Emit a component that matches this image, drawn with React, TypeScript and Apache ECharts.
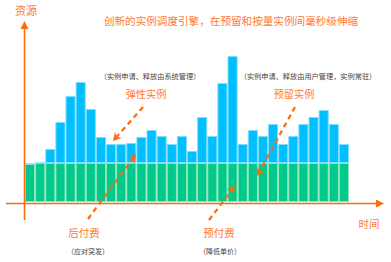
import React, { useEffect, useRef } from "react";
import * as echarts from "echarts";

const categories: string[] = Array.from({ length: 32 }, (_, i) => `T${i + 1}`);
const reservedValues: number[] = [38, 39, 39, 39, 39, 39, 39, 39, 39, 39, 39, 39, 39, 39, 39, 39, 39, 39, 39, 39, 39, 39, 39, 39, 39, 39, 39, 39, 39, 39, 39, 39];
const elasticValues: number[] = [0, 0, 14, 41, 67, 81, 54, 26, 19, 19, 20, 26, 33, 27, 19, 27, 12, 46, 27, 80, 107, 19, 33, 27, 39, 19, 27, 39, 46, 53, 39, 19];

const ORANGE = "#FF6A0D";
const TEXT_ORANGE = "#FF7A2E";
const FONT = '"Noto Sans CJK SC", "Noto Sans", sans-serif';

function arrow(x1: number, y1: number, x2: number, y2: number): any[] {
  const dx = x2 - x1;
  const dy = y2 - y1;
  const len = Math.sqrt(dx * dx + dy * dy);
  const ux = dx / len;
  const uy = dy / len;
  const px = -uy;
  const py = ux;
  const hl = 8;
  const hw = 4.5;
  const bx = x2 - ux * hl;
  const by = y2 - uy * hl;
  const nx = x2 - ux * hl * 0.7;
  const ny = y2 - uy * hl * 0.7;
  return [
    {
      type: "line",
      z: 100,
      shape: { x1, y1, x2: nx, y2: ny },
      style: { stroke: ORANGE, lineWidth: 2.2, lineDash: [5, 4] },
      silent: true,
    },
    {
      type: "polygon",
      z: 100,
      shape: {
        points: [
          [x2, y2],
          [bx + px * hw, by + py * hw],
          [nx, ny],
          [bx - px * hw, by - py * hw],
        ],
      },
      style: { fill: ORANGE },
      silent: true,
    },
  ];
}

function txt(x: number, y: number, text: string, size: number, color: string, align = "center", weight: any = "normal") {
  return {
    type: "text",
    z: 100,
    x,
    y,
    style: {
      text,
      fill: color,
      font: `${weight} ${size}px ${FONT}`,
      textAlign: align,
      textVerticalAlign: "middle",
    },
    silent: true,
  };
}

export default function App() {
  const ref = useRef<HTMLDivElement>(null);
  useEffect(() => {
    if (!ref.current) return;
    const chart = echarts.init(ref.current, undefined, { renderer: "svg" });
    chart.setOption({
      animation: false,
      backgroundColor: "#ffffff",
      grid: { left: 25, right: 42, top: 22, bottom: 60 },
      xAxis: {
        type: "category",
        data: categories,
        axisLine: { show: false },
        axisTick: { show: false },
        axisLabel: { show: false },
      },
      yAxis: {
        type: "value",
        min: 0,
        max: 180,
        axisLine: { show: false },
        axisTick: { show: false },
        axisLabel: { show: false },
        splitLine: { show: false },
      },
      series: [
        {
          type: "bar",
          stack: "total",
          data: reservedValues,
          barCategoryGap: "0%",
          itemStyle: { color: "#00C98B", borderColor: "#8EE6B6", borderWidth: 1 },
        },
        {
          type: "bar",
          stack: "total",
          data: elasticValues,
          barCategoryGap: "0%",
          itemStyle: { color: "#00BFFF", borderColor: "#7FDDFF", borderWidth: 1 },
        },
      ],
      graphic: [
        { type: "line", z: 100, shape: { x1: 24.5, y1: 220, x2: 24.5, y2: 27 }, style: { stroke: ORANGE, lineWidth: 1.6 }, silent: true },
        { type: "polygon", z: 100, shape: { points: [[24.5, 21], [20.5, 29], [28.5, 29]] }, style: { fill: ORANGE }, silent: true },
        { type: "line", z: 100, shape: { x1: 6, y1: 203.5, x2: 378, y2: 203.5 }, style: { stroke: ORANGE, lineWidth: 1.6 }, silent: true },
        { type: "polygon", z: 100, shape: { points: [[384, 203.5], [376, 199.5], [376, 207.5]] }, style: { fill: ORANGE }, silent: true },
        ...arrow(143, 107, 113, 141),
        ...arrow(88, 219, 136, 154),
        ...arrow(295, 107, 257, 176),
        ...arrow(209, 220, 235, 186),
        txt(26, 10, "资源", 11, TEXT_ORANGE),
        txt(231, 20, "创新的实例调度引擎，在预留和按量实例间毫秒级伸缩", 10.6, TEXT_ORANGE),
        txt(150, 76, "（实例申请、释放由系统管理）", 7.2, "#444444"),
        txt(308, 76, "（实例申请、释放由用户管理，实例常驻）", 7.2, "#444444"),
        txt(146, 93, "弹性实例", 10.2, TEXT_ORANGE),
        txt(294, 93, "预留实例", 10.2, TEXT_ORANGE),
        txt(84, 232, "后付费", 10.5, TEXT_ORANGE),
        txt(88, 251, "（应对突发）", 7, "#444444"),
        txt(219, 232, "预付费", 10.5, TEXT_ORANGE),
        txt(220, 251, "（降低单价）", 7, "#444444"),
        txt(369, 223, "时间", 10.5, TEXT_ORANGE),
      ],
    });
    return () => chart.dispose();
  }, []);
  return <div ref={ref} style={{ width: 391, height: 262, position: "absolute", left: 0, top: 0 }} />;
}
